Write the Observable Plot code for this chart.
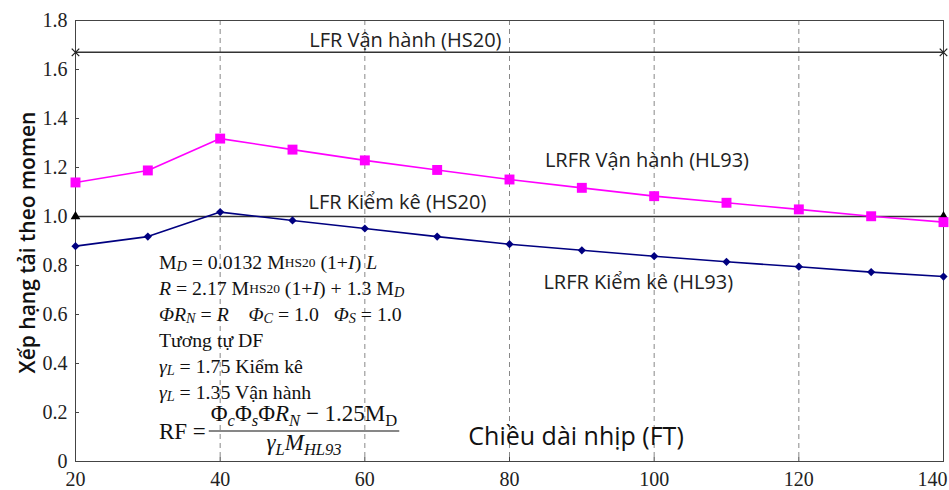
<!DOCTYPE html>
<html><head><meta charset="utf-8">
<script src="https://cdn.jsdelivr.net/npm/d3@7"></script>
<script src="https://cdn.jsdelivr.net/npm/@observablehq/plot@0.6"></script>
<style>body{margin:0;background:#fff}</style>
</head><body><div id="chart"></div>
<script>
// ---- data ----
const spans = [20, 30, 40, 50, 60, 70, 80, 90, 100, 110, 120, 130, 140];
const lrfrOperating = [1.139, 1.188, 1.318, 1.273, 1.229, 1.190, 1.151, 1.117, 1.083, 1.056, 1.029, 1.001, 0.977];
const lrfrInventory = [0.879, 0.918, 1.018, 0.984, 0.951, 0.918, 0.887, 0.862, 0.838, 0.815, 0.795, 0.773, 0.755];
const lfrOperating = 1.67;
const lfrInventory = 1.0;
const xTicks = [20, 40, 60, 80, 100, 120, 140];
const yTicks = [0, 0.2, 0.4, 0.6, 0.8, 1.0, 1.2, 1.4, 1.6, 1.8];
const gridX = [40, 60, 80, 100, 120];
const seriesNames = ["LFR Vận hành (HS20)", "LFR Kiểm kê (HS20)", "LRFR Vận hành (HL93)", "LRFR Kiểm kê (HL93)"];
const xTitle = "Chiều dài nhịp (FT)";
const yTitle = "Xếp hạng tải theo momen";

// label anchor points (data coordinates)
const labelX = [65.6, 64.5, 99.0, 97.8];
const labelY = [1.718, 1.057, 1.229, 0.731];

// ---- layout ----
const W = 949, H = 490, mL = 75, mR = 6, mT = 20, mB = 29;
const pw = W - mL - mR, ph = H - mT - mB;

const opRows = spans.map((x, i) => ({x, v: lrfrOperating[i]}));
const invRows = spans.map((x, i) => ({x, v: lrfrInventory[i]}));
const ends = [spans[0], spans[spans.length - 1]];
const labelRows = seriesNames.map((t, i) => ({t, x: labelX[i], y: labelY[i]}));
const lastTick = xTicks[xTicks.length - 1];

const plot = Plot.plot({
  width: W, height: H, marginLeft: mL, marginRight: mR, marginTop: mT, marginBottom: mB,
  style: {fontFamily: "Liberation Serif", fontSize: "20px", color: "#222", background: "#fff", overflow: "visible"},
  x: {domain: [20, 140]},
  y: {domain: [0, 1.8]},
  marks: [
    Plot.ruleX(gridX, {stroke: "#888", strokeDasharray: "5,4", strokeWidth: 1}),
    Plot.ruleX(xTicks, {stroke: "#444", insetTop: ph - 4}),
    Plot.ruleY(yTicks, {stroke: "#444", insetRight: pw - 4}),
    Plot.frame({stroke: "#444", strokeWidth: 1}),
    Plot.axisX(xTicks.slice(0, -1), {tickSize: 0, tickPadding: 10, label: null, fontSize: 20, fill: "#222"}),
    Plot.axisX([lastTick], {tickSize: 0, tickPadding: 10, label: null, fontSize: 20, fill: "#222", dx: -11}),
    Plot.axisY(yTicks, {tickSize: 0, tickPadding: 8, label: null, fontSize: 20, fill: "#222",
      tickFormat: d => d === 0 ? "0" : d.toFixed(1)}),
    Plot.ruleY([lfrOperating, lfrInventory], {stroke: "#333", strokeWidth: 1.5}),
    Plot.dot(ends, {x: d => d, y: () => lfrOperating, symbol: "times", r: 3.5, stroke: "#222", strokeWidth: 1.3}),
    Plot.dot(ends, {x: d => d, y: () => lfrInventory, symbol: "triangle", r: 3.6, fill: "#000", stroke: "none"}),
    Plot.line(opRows, {x: "x", y: "v", stroke: "#ff00ff", strokeWidth: 1.6}),
    Plot.dot(opRows, {x: "x", y: "v", symbol: "square", r: 5.6, fill: "#ff00ff", stroke: "none"}),
    Plot.line(invRows, {x: "x", y: "v", stroke: "#000080", strokeWidth: 1.6}),
    Plot.dot(invRows, {x: "x", y: "v", symbol: "diamond2", r: 3.7, fill: "#000080", stroke: "none"}),
    Plot.text(labelRows, {x: "x", y: "y", text: "t", fontFamily: "Open Sans", fontSize: 20, fill: "#222"}),
    Plot.text([xTitle], {x: 89.2, y: 0.098, text: d => d, fontFamily: "Open Sans", fontSize: 25, fill: "#111"})
  ]
});
document.getElementById("chart").appendChild(plot);

// ---- y title and formula block ----
const sx = plot.scale("x");
const svg = d3.select(plot);
svg.append("text")
  .attr("transform", `translate(27,${mT + ph / 2 + 2}) rotate(-90)`)
  .attr("text-anchor", "middle").attr("dominant-baseline", "central")
  .style("font-family", "Open Sans").style("font-weight", 600).style("font-size", "21px").style("fill", "#111")
  .text(yTitle);

// segment kinds: n normal, i italic, s subscript, si italic subscript, c small (baseline)
const formulaLines = [
  [["M","n"],["D","si"],[" = 0.0132 M","n"],["HS20","c"],[" (1+","n"],["I","i"],[") ","n"],["L","i"]],
  [["R","i"],[" = 2.17 M","n"],["HS20","c"],[" (1+","n"],["I","i"],[") + 1.3 M","n"],["D","si"]],
  [["ΦR","i"],["N","si"],[" = ","n"],["R","i"],["    ","n"],["Φ","i"],["C","si"],[" = 1.0   ","n"],["Φ","i"],["S","si"],[" = 1.0","n"]],
  [["Tương tự DF","n"]],
  [["γ","i"],["L","si"],[" = 1.75 Kiểm kê","n"]],
  [["γ","i"],["L","si"],[" = 1.35 Vận hành","n"]]
];
const numer = [["Φ","n"],["c","si"],["Φ","n"],["s","si"],["Φ","n"],["R","i"],["N","si"],[" − 1.25M","n"],["D","s"]];
const denom = [["γ","i"],["L","si"],["M","i"],["HL93","si"]];

function addSegs(textSel, segs, size) {
  let shifted = 0;
  segs.forEach(([t, k]) => {
    const ts = textSel.append("tspan").text(t).attr("xml:space", "preserve").style("white-space", "pre");
    const sub = k === "s" || k === "si";
    const target = sub ? Math.round(size * 0.2) : 0;
    if (target !== shifted) { ts.attr("dy", target - shifted); shifted = target; }
    if (k === "i" || k === "si") ts.style("font-style", "italic");
    if (sub) ts.style("font-size", (size * 0.72) + "px");
    if (k === "c") ts.style("font-size", (size * 0.68) + "px");
  });
}

const fx = sx.apply(31.6);
const lineY0 = 262, lineStep = 26;
const g = svg.append("g").style("font-family", "Liberation Serif").style("fill", "#111")
  .style("white-space", "pre").attr("text-anchor", "start");
formulaLines.forEach((segs, i) => {
  const t = g.append("text").attr("x", fx).attr("y", lineY0 + i * lineStep)
    .attr("text-anchor", "start").attr("dominant-baseline", "central").style("font-size", "19.8px");
  addSegs(t, segs, 19.8);
});

// RF fraction
const rf = g.append("text").attr("x", fx).attr("y", 439).attr("text-anchor", "start").style("font-size", "23px").text("RF =");
const barX0 = fx + rf.node().getComputedTextLength() + 3;
const nt = g.append("text").attr("y", 421).style("font-size", "23px").attr("text-anchor", "middle");
addSegs(nt, numer, 23);
const nw = nt.node().getComputedTextLength();
const barX1 = barX0 + nw + 4;
nt.attr("x", (barX0 + barX1) / 2);
g.append("line").attr("x1", barX0).attr("x2", barX1).attr("y1", 431).attr("y2", 431)
  .attr("stroke", "#111").attr("stroke-width", 1.2);
const dt = g.append("text").attr("x", (barX0 + barX1) / 2).attr("y", 450).style("font-size", "23px").attr("text-anchor", "middle");
addSegs(dt, denom, 23);
</script>
</body></html>
